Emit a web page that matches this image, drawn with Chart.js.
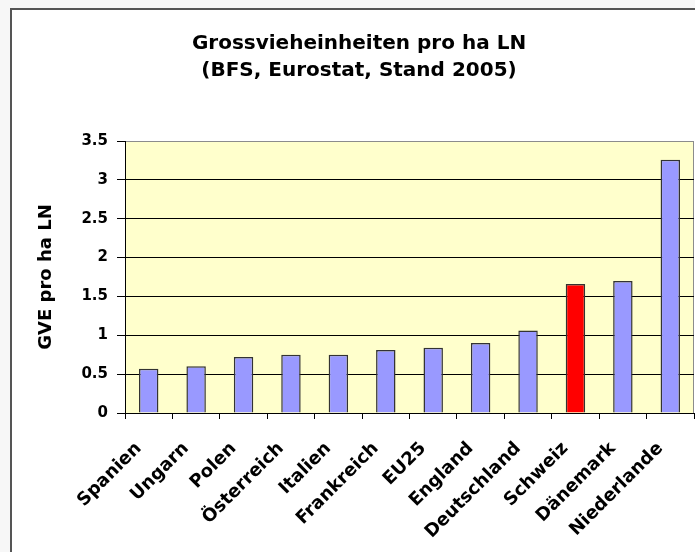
<!DOCTYPE html>
<html>
<head>
<meta charset="utf-8">
<script src="https://cdn.jsdelivr.net/npm/chart.js@4.4.1/dist/chart.umd.min.js"></script>
<style>
  html, body { margin: 0; padding: 0; background: #f7f7f7; overflow: hidden; }
  #frame {
    position: absolute; left: 10px; top: 8px; width: 700px; height: 560px;
    background: #fff; border-left: 2px solid #555; border-top: 2px solid #555;
  }
  #wrap { position: absolute; left: 0; top: 0; width: 683px; height: 542px; }
</style>
</head>
<body>
<div id="frame"><div id="wrap"><canvas id="bar-chart"></canvas></div></div>
<script>
    "use strict";

    // Daten (GVE pro ha LN, BFS / Eurostat 2005)
    var laender = ['Spanien', 'Ungarn', 'Polen', 'Österreich', 'Italien', 'Frankreich',
        'EU25', 'England', 'Deutschland', 'Schweiz', 'Dänemark', 'Niederlande'];
    var gve = [0.57, 0.60, 0.72, 0.75, 0.75, 0.81, 0.84, 0.90, 1.06, 1.66, 1.70, 3.26];
    var hervorheben = 'Schweiz';
    var yTicks = [0, 0.5, 1, 1.5, 2, 2.5, 3, 3.5];

    var schrift = "'DejaVu Sans', sans-serif";

    // Plotflaeche gelb hinterlegen
    var plotHintergrund = {
        id: 'plotHintergrund',
        beforeDraw: function (chart) {
            var a = chart.chartArea, ctx = chart.ctx;
            ctx.save();
            ctx.fillStyle = '#ffffcc';
            ctx.fillRect(a.left, a.top, a.right - a.left, a.bottom - a.top);
            ctx.strokeStyle = '#8c8c8c';
            ctx.lineWidth = 1;
            ctx.strokeRect(Math.round(a.left) + 0.5, Math.round(a.top) + 0.5,
                Math.round(a.right - a.left) - 1, Math.round(a.bottom - a.top));
            ctx.restore();
        }
    };

    var ctx = document.getElementById('bar-chart').getContext('2d');
    var myChart = new Chart(ctx, {
        type: 'bar',
        data: {
            labels: laender,
            datasets: [{
                data: gve,
                backgroundColor: laender.map(function (l) { return l === hervorheben ? '#ff0000' : '#9999ff'; }),
                borderColor: '#333333',
                borderWidth: 1.5,
                barPercentage: 0.41,
                categoryPercentage: 1.0
            }]
        },
        options: {
            responsive: true,
            maintainAspectRatio: false,
            animation: false,
            layout: { padding: { left: 12, right: 1, top: 0, bottom: 0 } },
            plugins: {
                legend: { display: false },
                tooltip: { enabled: false },
                title: {
                    display: true,
                    text: ['Grossvieheinheiten pro ha LN', '(BFS, Eurostat, Stand 2005)'],
                    color: '#000',
                    font: { family: schrift, size: 20, weight: 'bold', lineHeight: 1.35 },
                    padding: { top: 20, bottom: 57 }
                }
            },
            scales: {
                x: {
                    afterFit: function (s) { s.height = 139; s.paddingLeft = 0; s.paddingRight = 0; },
                    grid: {
                        offset: true,
                        drawOnChartArea: false,
                        drawTicks: true,
                        tickLength: 6,
                        tickColor: '#000'
                    },
                    border: { color: '#000', width: 1 },
                    ticks: {
                        autoSkip: false,
                        minRotation: 45,
                        maxRotation: 45,
                        padding: 19,
                        labelOffset: -10,
                        color: '#000',
                        font: { family: schrift, size: 18, weight: 'bold' }
                    }
                },
                y: {
                    min: 0,
                    max: 3.5,
                    afterFit: function (s) { s.width = 101; },
                    afterBuildTicks: function (s) { s.ticks = yTicks.map(function (v) { return { value: v }; }); },
                    grid: {
                        color: function (c) { return c.tick && c.tick.value === 3.5 ? 'rgba(0,0,0,0)' : '#000'; },
                        tickColor: '#000',
                        tickLength: 8,
                        lineWidth: 1
                    },
                    border: { color: '#000', width: 1 },
                    ticks: {
                        stepSize: 0.5,
                        padding: 9,
                        color: '#000',
                        font: { family: schrift, size: 15, weight: 'bold' },
                        callback: function (v) { return String(v); }
                    },
                    title: {
                        display: true,
                        text: 'GVE pro ha LN',
                        color: '#000',
                        font: { family: schrift, size: 18, weight: 'bold' },
                        padding: { top: 12, bottom: 0 }
                    }
                }
            }
        },
        plugins: [plotHintergrund]
    });
</script>
</body>
</html>
